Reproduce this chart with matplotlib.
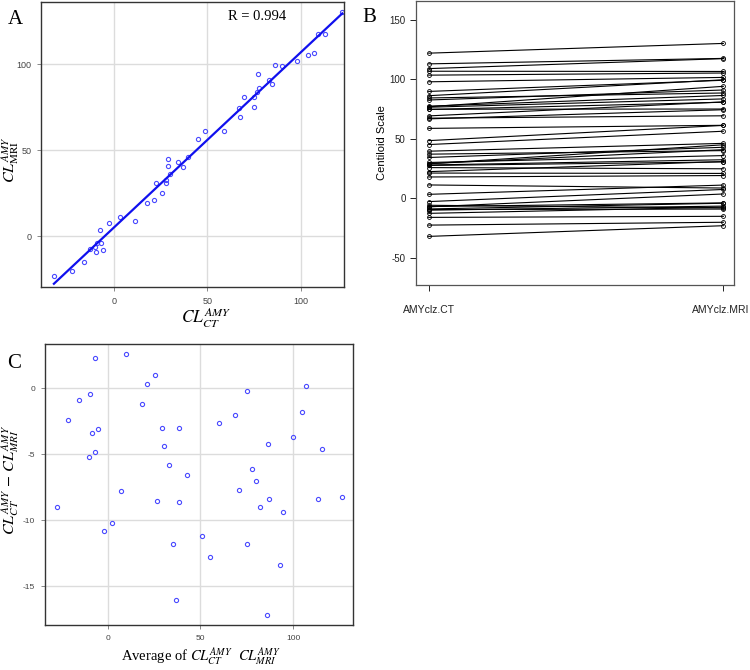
import numpy as np
import matplotlib
matplotlib.use('Agg')
from matplotlib import pyplot as plt
from matplotlib.transforms import ScaledTranslation

plt.rcParams['mathtext.fontset'] = 'stix'
plt.rcParams['font.family'] = ['Liberation Sans', 'DejaVu Sans']
plt.rcParams['axes.unicode_minus'] = False

# centiloid values per subject, CT based and MRI based pipeline
ct = [-32.1, -22.6, -16.1, -9.5, -5.9, -10.0, -7.0, -9.0, -12.7, -7.2,
      -2.8, 3.3, 11.2, 17.9, 21.2, 25.8, 27.6, 28.0, 30.1, 22.4,
      37.1, 34.3, 29.1, 29.0, 39.6, 45.2, 48.5, 58.8, 67.4, 66.8,
      74.9, 69.3, 74.7, 76.6, 77.5, 84.4, 82.7, 77.0, 86.3, 89.9,
      98.0, 103.6, 106.9, 109.1, 113.1, 122.1]
mri = [-23.1, -20.2, -15.2, -9.1, -8.2, -6.6, -3.9, -4.2, -7.5, 3.6,
       7.4, 11.1, 8.6, 19.1, 20.9, 24.8, 30.6, 32.4, 35.9, 30.9,
       40.1, 42.9, 40.9, 45.0, 46.2, 56.4, 61.3, 61.4, 69.4, 74.5,
       75.1, 81.1, 80.8, 83.6, 86.5, 88.6, 91.1, 94.2, 99.7, 99.3,
       101.7, 105.4, 106.7, 117.5, 117.7, 130.3]
r_text = 'R = 0.994'
b_labels = ['AMYclz.CT', 'AMYclz.MRI']

ct = np.array(ct)
mri = np.array(mri)

W, H = 750, 670
fig = plt.figure(figsize=(W / 100, H / 100), dpi=100)

def px_axes(l, t, r, b):
    return fig.add_axes([l / W, (H - b) / H, (r - l) / W, (b - t) / H])

def px_text(x, y, s, **kw):
    return fig.text(x / W, 1 - y / H, s, ha='center', va='center', **kw)

def style_grid_ax(ax):
    ax.grid(True, color='#dcdcdc', lw=1.0)
    ax.set_axisbelow(True)
    for s in ax.spines.values():
        s.set_color('#333333')
        s.set_linewidth(1.0)
    ax.tick_params(labelsize=6.5, labelcolor='#444444', color='#888888',
                   length=3, width=0.7, pad=4)

serif = ['Liberation Serif', 'DejaVu Serif']
sans = ['Liberation Sans', 'DejaVu Sans']
pt_col = '#4a4aff'

# A: scatter with fit
axA = px_axes(41, 2, 344, 287)
axA.plot(ct, mri, 'o', mfc='none', mec=pt_col, ms=3.0, mew=0.8)
k, c0 = np.polyfit(ct, mri, 1)
xs = np.array([ct.min(), ct.max()])
axA.plot(xs, k * xs + c0, color='#1010ee', lw=1.6)
axA.set_xlim(-39, 123)
axA.set_ylim(-29.7, 136.3)
axA.set_xticks([0, 50, 100])
axA.set_yticks([0, 50, 100])
style_grid_ax(axA)
px_text(257, 17, r_text, fontsize=10.5, family=serif)
px_text(11, 160, r'$CL^{AMY}_{\mathrm{MRI}}$', rotation=90, fontsize=11.5)
px_text(206, 318, r'$CL^{AMY}_{CT}$', fontsize=12.5)
px_text(15, 20, 'A', fontsize=15, family=serif)

# B: paired lines
axB = px_axes(416, 1, 734, 285)
for a, b in zip(ct, mri):
    axB.plot([1, 2], [a, b], color='black', lw=0.8, marker='o', mfc='none',
             mec='black', ms=2.8, mew=0.6)
axB.set_xlim(0.957, 2.036)
axB.set_ylim(-73, 166)
axB.set_xticks([1, 2])
axB.set_xticklabels(b_labels, family=sans)
axB.set_yticks([-50, 0, 50, 100, 150])
for s in axB.spines.values():
    s.set_color('#555555')
    s.set_linewidth(0.9)
axB.tick_params(labelsize=7, colors='#222222', length=4.5, width=0.7, pad=3)
axB.tick_params(axis='x', labelsize=7.5, pad=10)
lab = axB.get_xticklabels()[1]
lab.set_ha('right')
lab.set_transform(lab.get_transform() + ScaledTranslation(26 / 100, 0, fig.dpi_scale_trans))
axB.set_ylabel('Centiloid Scale', fontsize=8, family=sans)
axB.yaxis.set_label_coords((387 - 416) / 318, 0.5)
px_text(369, 18, 'B', fontsize=15, family=serif)

# C: Bland-Altman style
avg = (ct + mri) / 2
diff = ct - mri
axC = px_axes(45, 344, 353, 625)
axC.plot(avg, diff, 'o', mfc='none', mec=pt_col, ms=3.0, mew=0.8)
axC.set_xlim(-33.8, 132.2)
axC.set_ylim(-17.93, 3.36)
axC.set_xticks([0, 50, 100])
axC.set_yticks([-15, -10, -5, 0])
style_grid_ax(axC)
axC.tick_params(labelsize=6)
px_text(11, 480, r'$CL^{AMY}_{CT}\,-\,CL^{AMY}_{MRI}$', rotation=90, fontsize=11.5)
px_text(201, 657, 'Average of $CL^{AMY}_{CT}$  $CL^{AMY}_{MRI}$',
        fontsize=10.5, family=serif)
px_text(14, 363, 'C', fontsize=15, family=serif)

fig.savefig('out.png', dpi=100)
